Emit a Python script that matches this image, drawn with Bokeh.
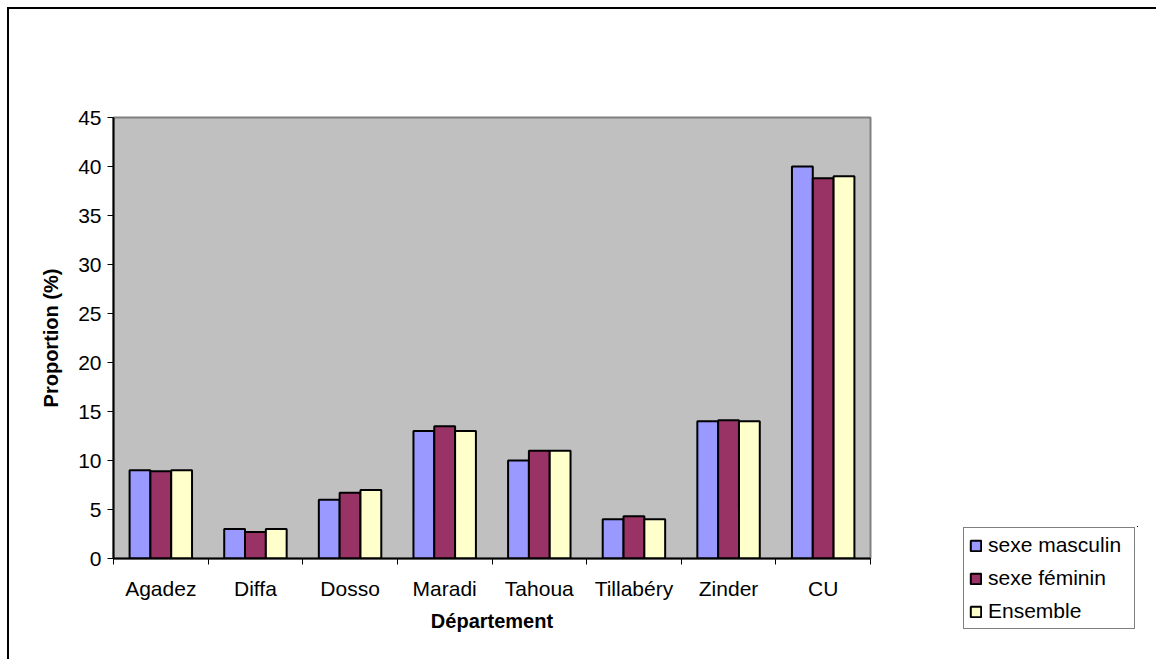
from bokeh.plotting import figure
from bokeh.models import Range1d, FixedTicker, Legend, LegendItem, ColumnDataSource
from bokeh.embed import file_html
from bokeh.resources import INLINE

categories = ["Agadez", "Diffa", "Dosso", "Maradi", "Tahoua", "Tillabéry", "Zinder", "CU"]
masculin = [9.0, 3.0, 6.0, 13.0, 10.0, 4.0, 14.0, 40.0]
feminin = [8.9, 2.7, 6.7, 13.5, 11.0, 4.3, 14.1, 38.8]
ensemble = [9.0, 3.0, 7.0, 13.0, 11.0, 4.0, 14.0, 39.0]
series_names = ["sexe masculin", "sexe féminin", "Ensemble"]
series_colors = ["#9999FF", "#993366", "#FFFFCC"]
y_ticks = [0, 5, 10, 15, 20, 25, 30, 35, 40, 45]

FONT = "Liberation Sans"
BW = 0.22

p = figure(width=1149, height=652, output_backend="svg", toolbar_location=None, tools="",
           x_range=Range1d(0, len(categories)), y_range=Range1d(0, 45),
           min_border_left=104, min_border_right=288, min_border_top=108, min_border_bottom=103)
p.styles = {"border-left": "2px solid black", "border-top": "2px solid black",
            "margin-left": "7px", "margin-top": "7px"}
p.background_fill_color = "#C0C0C0"
p.border_fill_color = "white"
p.outline_line_color = "#808080"
p.outline_line_width = 2
p.xgrid.visible = False
p.ygrid.visible = False

centers = [i + 0.5 for i in range(len(categories))]
series_values = [masculin, feminin, ensemble]
for k, (vals, col) in enumerate(zip(series_values, series_colors)):
    src = ColumnDataSource(dict(x=[c + (k - 1) * BW for c in centers], top=vals))
    p.vbar(x="x", top="top", bottom=0, width=BW, source=src, fill_color=col,
           line_color="black", line_width=2)

# x axis
xa = p.xaxis[0]
xa.ticker = FixedTicker(ticks=centers, minor_ticks=list(range(len(categories) + 1)))
xa.major_label_overrides = {c: cat for c, cat in zip(centers, categories)}
xa.major_tick_line_color = None
xa.major_tick_out = 0
xa.major_tick_in = 0
xa.minor_tick_line_color = "black"
xa.minor_tick_line_width = 1
xa.minor_tick_out = 6
xa.minor_tick_in = 0
xa.axis_line_color = "black"
xa.axis_line_width = 2
xa.major_label_text_font = FONT
xa.major_label_text_font_size = "21px"
xa.major_label_text_color = "black"
xa.major_label_standoff = 12
xa.axis_label = "Département"
xa.axis_label_text_font = FONT
xa.axis_label_text_font_size = "20px"
xa.axis_label_text_font_style = "bold"
xa.axis_label_text_color = "black"
xa.axis_label_standoff = 7

ya = p.yaxis[0]
ya.ticker = FixedTicker(ticks=y_ticks)
ya.minor_tick_line_color = None
ya.major_tick_out = 6
ya.major_tick_in = 0
ya.major_tick_line_color = "black"
ya.axis_line_color = "black"
ya.axis_line_width = 2
ya.major_label_text_font = FONT
ya.major_label_text_font_size = "21px"
ya.major_label_text_color = "black"
ya.major_label_standoff = 6
ya.axis_label = "Proportion (%)"
ya.axis_label_text_font = FONT
ya.axis_label_text_font_size = "20px"
ya.axis_label_text_font_style = "bold"
ya.axis_label_text_color = "black"
ya.axis_label_standoff = 13

# legend in its own small figure, placed over the page at the chart's legend position
leg = figure(width=176, height=103, output_backend="svg", toolbar_location=None, tools="",
             x_range=Range1d(-30, -29), y_range=Range1d(-30, -29),
             x_axis_type=None, y_axis_type=None, min_border=0)
leg.styles = {"position": "absolute", "left": "962px", "top": "526px"}
leg.outline_line_color = None
leg.background_fill_color = "white"
leg.border_fill_color = "white"
leg.xgrid.visible = False
leg.ygrid.visible = False
items = []
for k, (vals, name, col) in enumerate(zip(series_values, series_names, series_colors)):
    src = ColumnDataSource(dict(x=[c + (k - 1) * BW for c in centers], top=vals))
    r = leg.vbar(x="x", top="top", bottom=0, width=BW, source=src, fill_color=col,
                 line_color="black", line_width=2)
    items.append(LegendItem(label=name, renderers=[r]))
legend = Legend(items=items, location="top_left", orientation="vertical",
                label_text_font=FONT, label_text_font_size="21px", label_text_color="black",
                glyph_width=13, glyph_height=13, label_standoff=6, spacing=9,
                padding=5, label_width=141, margin=1,
                border_line_color="black", border_line_width=1,
                background_fill_color="white", background_fill_alpha=1.0)
leg.add_layout(legend)

open("out.html", "w").write(file_html([p, leg], INLINE))
